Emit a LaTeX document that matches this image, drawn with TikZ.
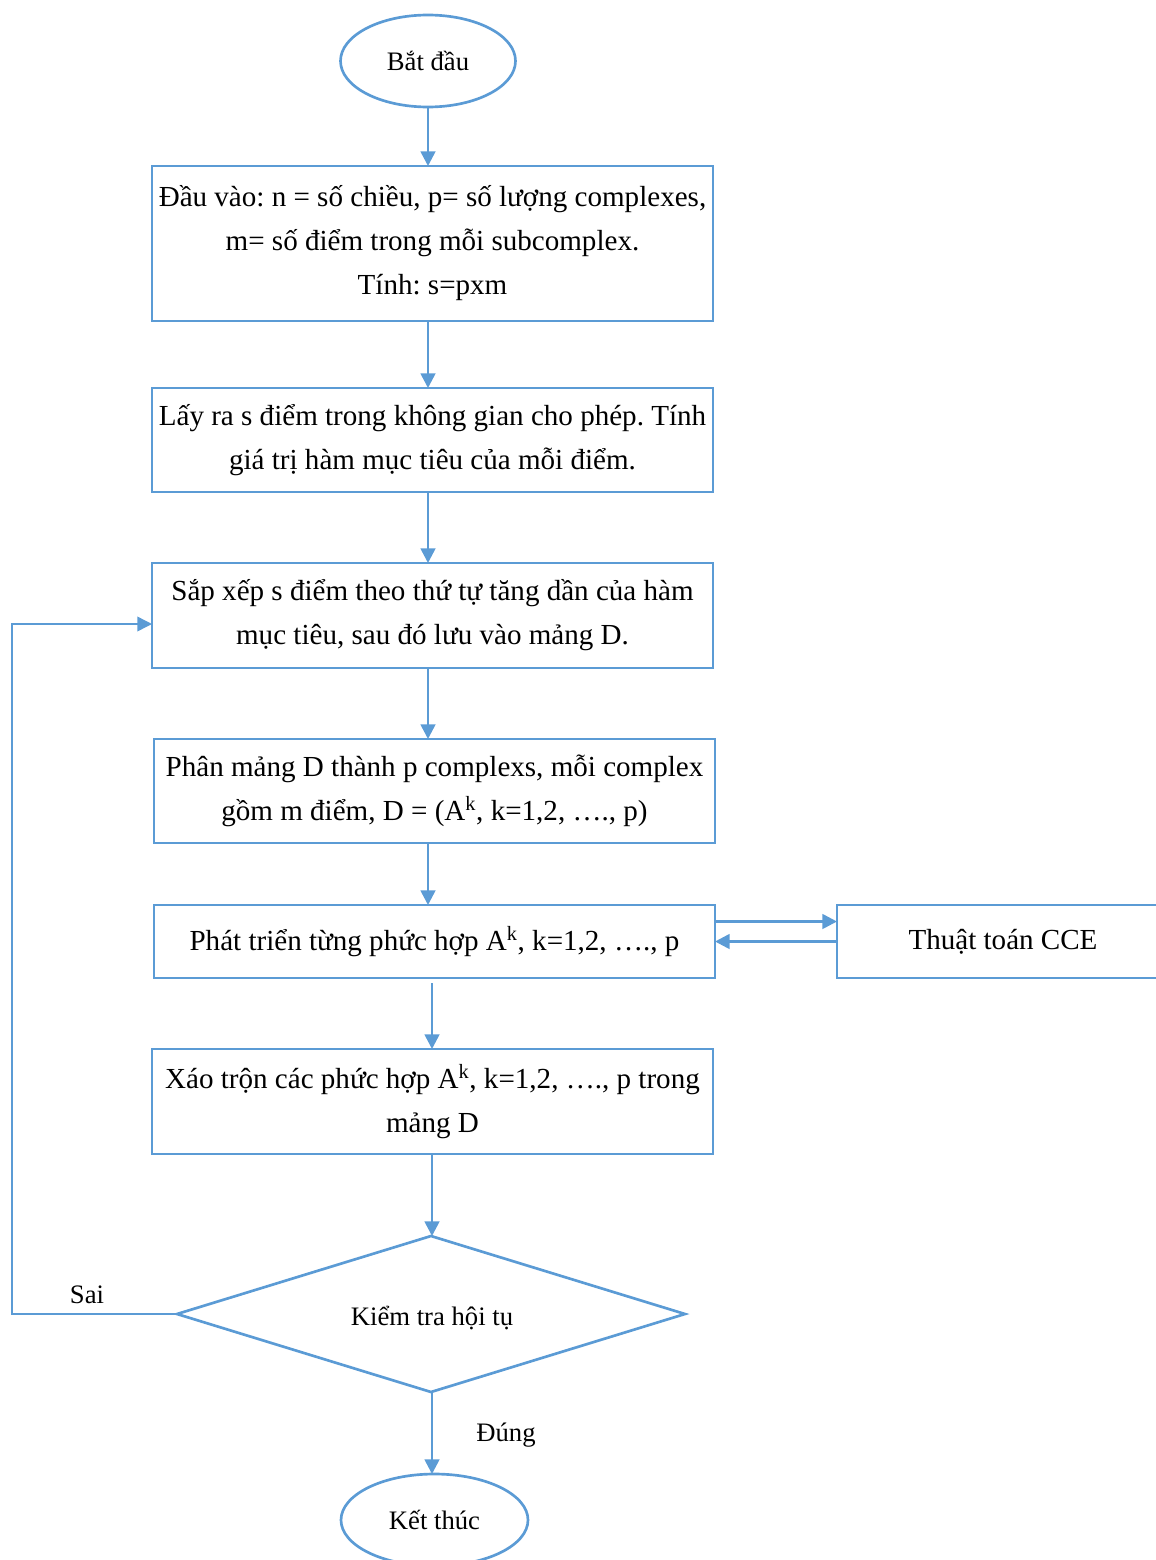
\documentclass[tikz,border=0pt]{standalone}
\usepackage{fontspec}
\setmainfont{Liberation Serif}
\usetikzlibrary{shapes.geometric,arrows.meta}
\definecolor{flowblue}{HTML}{5B9BD5}
\frenchspacing
\begin{document}
\begin{tikzpicture}[x=0.75pt,y=-0.75pt,
  every node/.style={inner sep=0pt, outer sep=0pt},
  bigtext/.style={font=\fontsize{21.8pt}{33pt}\selectfont, align=center},
  smalltext/.style={font=\fontsize{20pt}{24pt}\selectfont},
  stepbox/.style={draw=flowblue, line width=2pt, rectangle, bigtext},
  terminal/.style={draw=flowblue, line width=2pt, ellipse, smalltext},
  decision/.style={draw=flowblue, line width=2pt, diamond, smalltext},
  flow/.style={draw=flowblue, line width=2pt, -{Triangle[length=11pt,width=11pt]}},
  thinflow/.style={draw=flowblue, line width=1.1pt, -{Triangle[length=11pt,width=11pt]}}
]
\useasboundingbox (0,0) rectangle (1156,1560);

% start / end terminals
\node[terminal, minimum width=131.25pt, minimum height=69pt] (start) at (428,61) {Bắt đầu};

% process steps
\node[stepbox, minimum width=420.75pt, minimum height=116.25pt] (input) at (432.5,243.5)
  {Đầu vào: n = số chiều, p= số lượng complexes,\\ m= số điểm trong mỗi subcomplex.\\ Tính: s=pxm};
\node[stepbox, minimum width=420.75pt, minimum height=78pt] (sample) at (432.5,440)
  {Lấy ra s điểm trong không gian cho phép. Tính\\ giá trị hàm mục tiêu của mỗi điểm.};
\node[stepbox, minimum width=420.75pt, minimum height=78.75pt] (sort) at (432.5,615.5)
  {Sắp xếp s điểm theo thứ tự tăng dần của hàm\\ mục tiêu, sau đó lưu vào mảng D.};
\node[stepbox, minimum width=420.75pt, minimum height=78pt] (split) at (434.5,791)
  {Phân mảng D thành p complexs, mỗi complex\\ gồm m điểm, D = (A\textsuperscript{k}, k=1,2, …., p)};
\node[stepbox, minimum width=420.75pt, minimum height=54.75pt] (evolve) at (434.5,941.5)
  {Phát triển từng phức hợp A\textsuperscript{k}, k=1,2, …., p};
\node[stepbox, minimum width=249pt, minimum height=54.75pt] (cce) at (1003,941.5)
  {Thuật toán CCE};
\node[stepbox, minimum width=420.75pt, minimum height=78.75pt] (shuffle) at (432.5,1101.5)
  {Xáo trộn các phức hợp A\textsuperscript{k}, k=1,2, …., p trong\\ mảng D};

% convergence test
\node[decision, minimum width=381pt, minimum height=117pt] (check) at (431,1314) {};
\node[smalltext] (checklabel) at (432,1318) {Kiểm tra hội tụ};

\node[terminal, minimum width=140.25pt, minimum height=69pt] (stop) at (434.5,1520) {Kết thúc};

% main flow
\draw[flow] (start.south) -- (input.north -| start.south);
\draw[flow] (input.south -| 428,0) -- (sample.north -| 428,0);
\draw[flow] (sample.south -| 428,0) -- (sort.north -| 428,0);
\draw[flow] (sort.south -| 428,0) -- (split.north -| 428,0);
\draw[flow] (split.south -| 428,0) -- (evolve.north -| 428,0);
\draw[flow] ([yshift=-3.75pt]evolve.south -| 432,0) -- (shuffle.north -| 432,0);
\draw[flow] (shuffle.south -| 432,0) -- (check.north -| 432,0);
\draw[flow] (check.south -| 432,0) -- (stop.north -| 432,0);

% exchange with the CCE routine
\draw[flow] ([yshift=15pt]evolve.east) -- ([yshift=15pt]cce.west);
\draw[flow] (cce.west) -- (evolve.east);

% loop back when not converged
\coordinate (loopbottom) at (12,1314);
\coordinate (looptop) at (12,624);
\draw[thinflow] (check.west) -- (loopbottom) -- (looptop) -- (sort.west |- looptop);

% branch labels
\node[smalltext] (sai) at (87,1295) {Sai};
\node[smalltext] (dung) at (506,1435) {Đúng};
\end{tikzpicture}
\end{document}
